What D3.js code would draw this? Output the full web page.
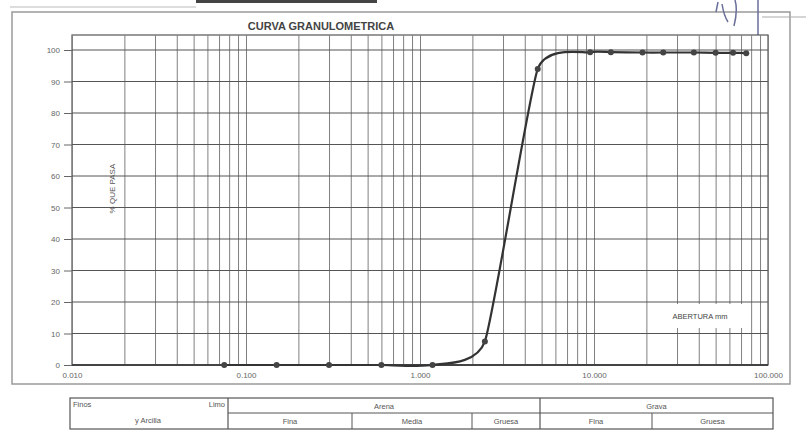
<!DOCTYPE html>
<html>
<head>
<meta charset="utf-8">
<script src="https://cdn.jsdelivr.net/npm/d3@7/dist/d3.min.js"></script>
<style>
  html, body { margin: 0; padding: 0; background: #fff; }
  svg { display: block; font-family: "Liberation Sans", Arial, sans-serif; }
</style>
</head>
<body>
<svg id="chart" width="806" height="431"></svg>
<script>
// ---- data ----
const sieveSizes = [0.075, 0.15, 0.3, 0.6, 1.18, 2.36, 4.75, 9.5, 12.5, 19, 25, 37.5, 50, 63, 75];
const percentPassing = [0, 0, 0, 0, 0, 7.5, 94, 99.3, 99.3, 99.2, 99.2, 99.2, 99.1, 99.1, 99.0];
const yTickValues = [0, 10, 20, 30, 40, 50, 60, 70, 80, 90, 100];
const xTickValues = [0.01, 0.1, 1, 10, 100];
const xTickLabels = ["0.010", "0.100", "1.000", "10.000", "100.000"];
const titleText = "CURVA GRANULOMETRICA";
const yTitle = "% QUE PASA";
const xTitle = "ABERTURA mm";

// table labels
const tableTop = ["Arena", "Grava"];
const tableSub = ["Fina", "Media", "Gruesa", "Fina", "Gruesa"];

// ---- layout ----
const svg = d3.select("#chart");
const L = 72, R = 768, T = 35, B = 365;
const x = d3.scaleLog().domain([0.01, 100]).range([L, R]);
const y = d3.scaleLinear().domain([0, 100]).range([B, 50]);

// outer frame
svg.append("rect").attr("x", 12).attr("y", 12).attr("width", 778).attr("height", 372)
  .attr("fill", "none").attr("stroke", "#9a9a9a").attr("stroke-width", 1.5);

// page decoration lines (scan)
svg.append("line").attr("x1", 196).attr("x2", 377).attr("y1", 1.5).attr("y2", 1.5)
  .attr("stroke", "#444").attr("stroke-width", 3);
svg.append("line").attr("x1", 10).attr("x2", 196).attr("y1", 7).attr("y2", 7)
  .attr("stroke", "#bbb").attr("stroke-width", 1);
svg.append("line").attr("x1", 762).attr("x2", 806).attr("y1", 17).attr("y2", 17)
  .attr("stroke", "#aaa").attr("stroke-width", 1);
svg.append("path").attr("d", "M718,2 L716,12 M722,4 Q724,16 728,22 M735,0 Q738,10 734,26 M758,0 L758,44")
  .attr("fill", "none").attr("stroke", "#6a6f9a").attr("stroke-width", 1.5);

// title
svg.append("text").attr("x", 321).attr("y", 30).attr("text-anchor", "middle")
  .attr("font-size", 11).attr("font-weight", "bold").attr("fill", "#444").text(titleText);

// plot background
svg.append("rect").attr("x", L).attr("y", T).attr("width", R - L).attr("height", B - T)
  .attr("fill", "#fff").attr("stroke", "#555").attr("stroke-width", 1.2);

// vertical gridlines (log minor)
const xGrid = svg.append("g").attr("transform", `translate(0,${B})`)
  .call(d3.axisBottom(x).tickSize(-(B - T)).tickFormat(""));
xGrid.select(".domain").remove();
xGrid.selectAll(".tick line").attr("stroke", "#808080").attr("stroke-width", 1);

// horizontal gridlines + y tick labels
const yAx = svg.append("g").attr("transform", `translate(${L},0)`)
  .call(d3.axisLeft(y).tickValues(yTickValues).tickSize(8).tickPadding(4).tickFormat(d3.format("d")));
yAx.select(".domain").remove();
yAx.selectAll(".tick line").attr("stroke", "#666");
yAx.selectAll(".tick text").attr("font-size", 8).attr("fill", "#666")
  .attr("font-family", "Liberation Sans, Arial, sans-serif");
svg.append("g").selectAll("line").data(yTickValues).join("line")
  .attr("x1", L).attr("x2", R).attr("y1", d => y(d)).attr("y2", d => y(d))
  .attr("stroke", "#555").attr("stroke-width", 1);

// label box for x title
svg.append("rect").attr("x", 652).attr("y", y(20) + 2).attr("width", 98).attr("height", 24)
  .attr("fill", "#fff");
svg.append("text").attr("x", 700).attr("y", 319).attr("text-anchor", "middle")
  .attr("font-size", 7.5).attr("fill", "#444").text(xTitle);

// x axis line and labels
svg.append("line").attr("x1", L).attr("x2", R).attr("y1", B).attr("y2", B)
  .attr("stroke", "#333").attr("stroke-width", 1.3);
const xAx = svg.append("g").attr("transform", `translate(0,${B})`)
  .call(d3.axisBottom(x).tickValues(xTickValues).tickSize(0).tickPadding(7)
    .tickFormat((d, i) => xTickLabels[i]));
xAx.select(".domain").remove();
xAx.selectAll(".tick text").attr("font-size", 8).attr("fill", "#666")
  .attr("font-family", "Liberation Sans, Arial, sans-serif");

// y title (rotated, inside plot)
svg.append("text").attr("transform", `translate(115,${y(56)}) rotate(-90)`)
  .attr("text-anchor", "middle").attr("font-size", 8).attr("fill", "#555").text(yTitle);

// curve
const pts = sieveSizes.map((s, i) => [s, percentPassing[i]]);
const line = d3.line().x(d => x(d[0])).y(d => y(d[1])).curve(d3.curveCardinal.tension(0.5));
svg.append("path").datum(pts).attr("d", line).attr("fill", "none")
  .attr("stroke", "#333").attr("stroke-width", 2.2);
svg.append("g").selectAll("circle").data(pts).join("circle")
  .attr("cx", d => x(d[0])).attr("cy", d => y(d[1])).attr("r", 3)
  .attr("fill", "#444");

// ---- table ----
const tb = svg.append("g").attr("font-size", 7.5).attr("fill", "#555")
  .attr("stroke", "#555");
const tL = 70, tR = 773, tT = 398, tM = 413, tB = 429;
const cols = [228, 352, 472, 540, 652];
tb.append("rect").attr("x", tL).attr("y", tT).attr("width", tR - tL).attr("height", tB - tT)
  .attr("fill", "none").attr("stroke-width", 1.2);
tb.append("line").attr("x1", cols[0]).attr("x2", tR).attr("y1", tM).attr("y2", tM);
tb.append("line").attr("x1", cols[0]).attr("x2", cols[0]).attr("y1", tT).attr("y2", tB).attr("stroke-width", 1.2);
tb.append("line").attr("x1", cols[3]).attr("x2", cols[3]).attr("y1", tT).attr("y2", tB).attr("stroke-width", 1.2);
[cols[1], cols[2], cols[4]].forEach(c =>
  tb.append("line").attr("x1", c).attr("x2", c).attr("y1", tM).attr("y2", tB));
const tt = svg.append("g").attr("font-size", 7.5).attr("fill", "#555");
tt.append("text").attr("x", tL + 3).attr("y", tT + 9).text("Finos");
tt.append("text").attr("x", cols[0] - 3).attr("y", tT + 9).attr("text-anchor", "end").text("Limo");
tt.append("text").attr("x", 148).attr("y", tT + 25).attr("text-anchor", "middle").text("y Arcilla");
tt.append("text").attr("x", (cols[0] + cols[3]) / 2).attr("y", tT + 11).attr("text-anchor", "middle").text(tableTop[0]);
tt.append("text").attr("x", (cols[3] + tR) / 2).attr("y", tT + 11).attr("text-anchor", "middle").text(tableTop[1]);
const edges = [cols[0], cols[1], cols[2], cols[3], cols[4], tR];
tableSub.forEach((t, i) =>
  tt.append("text").attr("x", (edges[i] + edges[i + 1]) / 2).attr("y", tM + 11)
    .attr("text-anchor", "middle").text(t));
</script>
</body>
</html>
